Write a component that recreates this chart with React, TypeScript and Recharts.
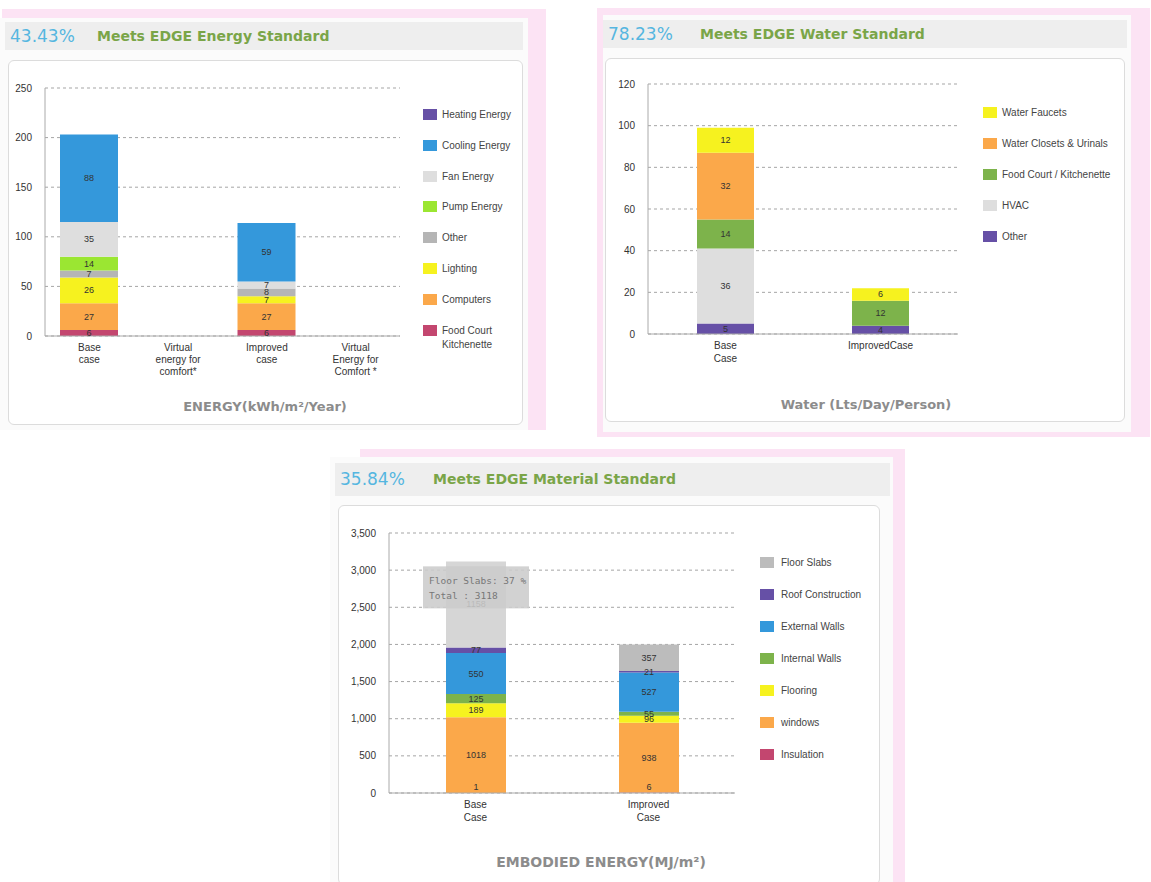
import React from 'react';
import { BarChart, Bar, XAxis, YAxis, CartesianGrid, LabelList, Cell } from 'recharts';

const FONT = '"Liberation Sans", Arial, sans-serif';
const HEAD_FONT = '"DejaVu Sans", Verdana, sans-serif';

// ---- Energy data (kWh/m2/year) ----
const energyCases = ['Base\ncase', 'Virtual\nenergy for\ncomfort*', 'Improved\ncase', 'Virtual\nEnergy for\nComfort *'];
const energyFoodCourt = [6, null, 6, null];
const energyComputers = [27, null, 27, null];
const energyLighting = [26, null, 7, null];
const energyOther = [7, null, 8, null];
const energyPump = [14, null, null, null];
const energyFan = [35, null, 7, null];
const energyCooling = [88, null, 59, null];
const energyHeating = [null, null, null, null];
const energyTicks = [0, 50, 100, 150, 200, 250];

// ---- Water data (Lts/day/person) ----
const waterCases = ['Base\nCase', 'ImprovedCase'];
const waterOther = [5, 4];
const waterHvac = [36, null];
const waterFoodCourt = [14, 12];
const waterClosets = [32, null];
const waterFaucets = [12, 6];
const waterTicks = [0, 20, 40, 60, 80, 100, 120];

// ---- Material data (MJ/m2) ----
const materialCases = ['Base\nCase', 'Improved\nCase'];
const materialInsulation = [1, 6];
const materialWindows = [1018, 938];
const materialFlooring = [189, 96];
const materialInternalWalls = [125, 55];
const materialExternalWalls = [550, 527];
const materialRoof = [77, 21];
const materialFloorSlabs = [1158, 357];
const materialTicks = [0, 500, 1000, 1500, 2000, 2500, 3000, 3500];
const materialTooltip = ['Floor Slabs: 37 %', 'Total : 3118'];

// series in stack order (bottom -> top)
const energySeries = [
  { key: 'foodCourt', name: 'Food Court\nKitchenette', values: energyFoodCourt },
  { key: 'computers', name: 'Computers', values: energyComputers },
  { key: 'lighting', name: 'Lighting', values: energyLighting },
  { key: 'other', name: 'Other', values: energyOther },
  { key: 'pump', name: 'Pump Energy', values: energyPump },
  { key: 'fan', name: 'Fan Energy', values: energyFan },
  { key: 'cooling', name: 'Cooling Energy', values: energyCooling },
  { key: 'heating', name: 'Heating Energy', values: energyHeating },
];
const energyColors: Record<string, string> = {
  foodCourt: '#c3466f',
  computers: '#fba84a',
  lighting: '#f6f21f',
  other: '#b5b5b5',
  pump: '#9be632',
  fan: '#dedede',
  cooling: '#3498db',
  heating: '#6650a6',
};

const waterSeries = [
  { key: 'other', name: 'Other', values: waterOther },
  { key: 'hvac', name: 'HVAC', values: waterHvac },
  { key: 'foodCourt', name: 'Food Court / Kitchenette', values: waterFoodCourt },
  { key: 'closets', name: 'Water Closets & Urinals', values: waterClosets },
  { key: 'faucets', name: 'Water Faucets', values: waterFaucets },
];
const waterColors: Record<string, string> = {
  other: '#6650a6',
  hvac: '#dedede',
  foodCourt: '#7db34b',
  closets: '#fba84a',
  faucets: '#f6f21f',
};

const materialSeries = [
  { key: 'insulation', name: 'Insulation', values: materialInsulation },
  { key: 'windows', name: 'windows', values: materialWindows },
  { key: 'flooring', name: 'Flooring', values: materialFlooring },
  { key: 'internalWalls', name: 'Internal Walls', values: materialInternalWalls },
  { key: 'externalWalls', name: 'External Walls', values: materialExternalWalls },
  { key: 'roof', name: 'Roof Construction', values: materialRoof },
  { key: 'floorSlabs', name: 'Floor Slabs', values: materialFloorSlabs },
];
const materialColors: Record<string, string> = {
  insulation: '#c3466f',
  windows: '#fba84a',
  flooring: '#f6f21f',
  internalWalls: '#7db34b',
  externalWalls: '#3498db',
  roof: '#6650a6',
  floorSlabs: '#bcbcbc',
};

const buildRows = (cases: string[], series: any[]) =>
  cases.map((c, i) => {
    const row: any = { name: c };
    series.forEach((s) => (row[s.key] = s.values[i]));
    return row;
  });

const energyRows = buildRows(energyCases, energySeries);
const waterRows = buildRows(waterCases, waterSeries);
const materialRows = buildRows(materialCases, materialSeries);

const getBox = (props: any) => {
  const vb = props.viewBox || props;
  return { x: vb.x ?? props.x, y: vb.y ?? props.y, width: vb.width ?? props.width, height: vb.height ?? props.height };
};

const SegLabel = (props: any) => {
  const { value } = props;
  if (value === null || value === undefined || value === 0) return null;
  const { x, y, width, height } = getBox(props);
  // tiny segments sitting on the axis get their label lifted a little, like the original
  const cy = height < 4 && props.lift ? y - 6 : y + height / 2;
  return (
    <text x={x + width / 2} y={cy} dy={3} textAnchor="middle" fontSize={9} fill="#333" fontFamily={FONT}>
      {value}
    </text>
  );
};

// floor slab label, with the hover tooltip box on the base case bar
const FloorSlabLabel = (props: any) => {
  const { value, index } = props;
  const { x, y, width } = getBox(props);
  const first = index === 0 || (index === undefined && value === materialFloorSlabs[0]);
  const seg = <SegLabel {...props} />;
  if (!first) return seg;
  const cx = x + width / 2;
  return (
    <g>
      {seg}
      <rect x={cx - 53} y={y + 5} width={106} height={42} fill="#cccccc" fillOpacity={0.88} />
      <text x={cx - 47} y={y + 23} fontSize={9.5} fill="#777" fontFamily='"DejaVu Sans Mono", monospace'>
        {materialTooltip[0]}
      </text>
      <text x={cx - 47} y={y + 38} fontSize={9.5} fill="#777" fontFamily='"DejaVu Sans Mono", monospace'>
        {materialTooltip[1]}
      </text>
    </g>
  );
};

const MultiTick = ({ x, y, payload, firstDy, lineH }: any) => {
  const lines = String(payload.value).split('\n');
  return (
    <text x={x} y={y} textAnchor="middle" fontSize={10} fill="#333" fontFamily={FONT}>
      {lines.map((l, i) => (
        <tspan key={i} x={x} dy={i === 0 ? firstDy : lineH}>
          {l}
        </tspan>
      ))}
    </text>
  );
};

const StackChart = ({ rows, series, colors, ticks, width, height, margin, yWidth, xHeight, barSize, fmt, firstDy, lineH, highlight, liftKey }: any) => (
  <BarChart width={width} height={height} data={rows} margin={margin}>
    <CartesianGrid vertical={false} stroke="#a5a5a5" strokeDasharray="3 3" />
    <XAxis
      dataKey="name"
      interval={0}
      height={xHeight}
      axisLine={{ stroke: '#aaa' }}
      tickLine={false}
      tick={(p: any) => <MultiTick {...p} firstDy={firstDy} lineH={lineH} />}
    />
    <YAxis
      type="number"
      domain={[ticks[0], ticks[ticks.length - 1]]}
      ticks={ticks}
      width={yWidth}
      axisLine={{ stroke: '#aaa' }}
      tickLine={false}
      tickMargin={7}
      tick={{ fontSize: 10, fill: '#333', fontFamily: FONT }}
      tickFormatter={fmt}
    />
    {series.map((s: any) => (
      <Bar key={s.key} dataKey={s.key} name={s.name} stackId="a" fill={colors[s.key]} barSize={barSize} isAnimationActive={false}>
        {highlight && highlight.key === s.key
          ? rows.map((_r: any, i: number) => <Cell key={i} fill={i === highlight.index ? highlight.color : colors[s.key]} />)
          : null}
        <LabelList
          dataKey={s.key}
          content={
            s.key === 'floorSlabs'
              ? FloorSlabLabel
              : (p: any) => <SegLabel {...p} lift={s.key === liftKey} />
          }
        />
      </Bar>
    ))}
  </BarChart>
);

const abs = (left: number, top: number, width: number, height: number, extra: React.CSSProperties = {}): React.CSSProperties => ({
  position: 'absolute',
  left,
  top,
  width,
  height,
  ...extra,
});

const Header = ({ left, top, width, height, pct, label, labelX }: any) => (
  <div style={abs(left, top, width, height, { background: '#eeeeee', fontFamily: HEAD_FONT })}>
    <span style={{ position: 'absolute', left: 5, top: 0, lineHeight: `${height}px`, fontSize: 17, color: '#55b6e0' }}>{pct}</span>
    <span style={{ position: 'absolute', left: labelX, top: 0, lineHeight: `${height}px`, fontSize: 14, fontWeight: 'bold', color: '#7aa548' }}>
      {label}
    </span>
  </div>
);

const LegendList = ({ left, top, gap, series, colors, textOffset }: any) => (
  <div style={abs(left, top, 160, 300, { fontFamily: FONT, fontSize: 10, color: '#444' })}>
    {[...series].reverse().map((s: any, i: number) => (
      <div key={s.key} style={{ position: 'absolute', left: 0, top: i * gap, whiteSpace: 'pre', lineHeight: '14px' }}>
        <span style={{ position: 'absolute', left: 0, top: 1, width: 14, height: 11, background: colors[s.key] }} />
        <span style={{ position: 'absolute', left: textOffset, top: 0 }}>{s.name}</span>
      </div>
    ))}
  </div>
);

const AxisTitle = ({ cx, cy, text, size }: any) => (
  <div
    style={{
      position: 'absolute',
      left: cx - 200,
      top: cy - 10,
      width: 400,
      height: 20,
      lineHeight: '20px',
      textAlign: 'center',
      fontFamily: HEAD_FONT,
      fontWeight: 'bold',
      fontSize: size,
      color: '#8c8c8c',
    }}
  >
    {text}
  </div>
);

const Card = ({ left, top, width, height }: any) => (
  <div style={abs(left, top, width, height, { background: '#fff', border: '1px solid #dcdcdc', borderRadius: 6, boxSizing: 'border-box' })} />
);

export default function App() {
  return (
    <div style={{ position: 'absolute', left: 0, top: 0, width: 1151, height: 882, overflow: 'hidden', background: '#fff' }}>
      {/* Energy panel */}
      <div style={abs(2, 9, 544, 421, { background: '#fce3f4' })} />
      <div style={abs(0, 18, 528, 412, { background: '#fbfbfb' })} />
      <Header left={5} top={22} width={518} height={28} pct="43.43%" label="Meets EDGE Energy Standard" labelX={92} />
      <Card left={8} top={60} width={515} height={365} />
      <div style={abs(0, 70, 410, 312)}>
        <StackChart
          rows={energyRows}
          series={energySeries}
          colors={energyColors}
          ticks={energyTicks}
          width={410}
          height={312}
          margin={{ top: 18, right: 10, left: 0, bottom: 0 }}
          yWidth={45}
          xHeight={46}
          barSize={58}
          firstDy={7}
          lineH={12}
        />
      </div>
      <LegendList left={423} top={108} gap={30.8} series={energySeries} colors={energyColors} textOffset={19} />
      <AxisTitle cx={265} cy={407} text="ENERGY(kWh/m²/Year)" size={13} />

      {/* Water panel */}
      <div style={abs(597, 8, 553, 429, { background: '#fce3f4' })} />
      <div style={abs(603, 15, 528, 417, { background: '#fbfbfb' })} />
      <Header left={603} top={20} width={524} height={28} pct="78.23%" label="Meets EDGE Water Standard" labelX={97} />
      <Card left={605} top={58} width={520} height={364} />
      <div style={abs(605, 70, 358, 300)}>
        <StackChart
          rows={waterRows}
          series={waterSeries}
          colors={waterColors}
          ticks={waterTicks}
          width={358}
          height={300}
          margin={{ top: 14, right: 5, left: 0, bottom: 0 }}
          yWidth={43}
          xHeight={36}
          barSize={57}
          firstDy={7}
          lineH={13}
        />
      </div>
      <LegendList left={983} top={106} gap={31} series={waterSeries} colors={waterColors} textOffset={19} />
      <AxisTitle cx={866} cy={405} text="Water (Lts/Day/Person)" size={13} />

      {/* Material panel */}
      <div style={abs(360, 449, 545, 433, { background: '#fce3f4' })} />
      <div style={abs(330, 457, 563, 425, { background: '#fbfbfb' })} />
      <Header left={335} top={463} width={555} height={33} pct="35.84%" label="Meets EDGE Material Standard" labelX={98} />
      <Card left={338} top={505} width={542} height={380} />
      <div style={abs(338, 515, 402, 318)}>
        <StackChart
          rows={materialRows}
          series={materialSeries}
          colors={materialColors}
          ticks={materialTicks}
          width={402}
          height={318}
          margin={{ top: 18, right: 5, left: 0, bottom: 0 }}
          yWidth={51}
          xHeight={40}
          barSize={60}
          fmt={(v: number) => v.toLocaleString('en-US')}
          firstDy={7}
          lineH={13}
          highlight={{ key: 'floorSlabs', index: 0, color: '#d6d6d6' }}
          liftKey="insulation"
        />
      </div>
      <LegendList left={760} top={556} gap={32} series={materialSeries} colors={materialColors} textOffset={21} />
      <AxisTitle cx={601} cy={862} text="EMBODIED ENERGY(MJ/m²)" size={14} />
    </div>
  );
}
